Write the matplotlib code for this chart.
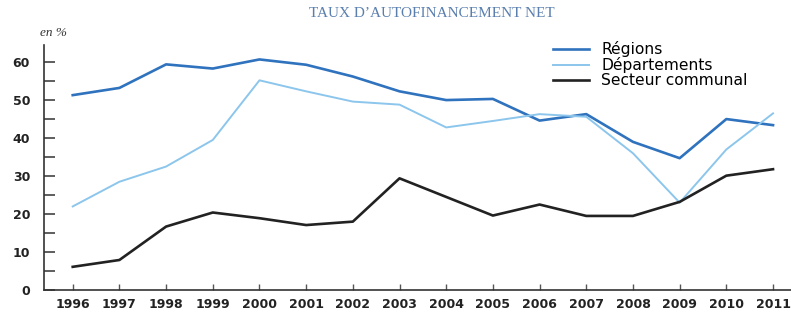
import numpy as np
import matplotlib
matplotlib.use("Agg")
import matplotlib.pyplot as plt
from matplotlib.ticker import MultipleLocator

years = list(range(1996, 2012))
regions = [51.3, 53.2, 59.4, 58.3, 60.7, 59.3, 56.2, 52.3, 50.0, 50.3, 44.6, 46.3, 39.0, 34.7, 45.0, 43.4]
departements = [22.0, 28.5, 32.5, 39.5, 55.2, 52.3, 49.6, 48.8, 42.8, 44.5, 46.3, 45.6, 36.0, 23.0, 37.0, 46.5]
communal = [6.1, 7.9, 16.7, 20.4, 18.9, 17.1, 18.0, 29.4, 24.5, 19.6, 22.5, 19.5, 19.5, 23.2, 30.1, 31.8]
labels = ["Régions", "Départements", "Secteur communal"]

fig = plt.figure(figsize=(7.91, 3.2), dpi=100)
ax = fig.add_axes([44 / 791, 30 / 320, 1 - 44 / 791, (290 - 45) / 320])

ax.plot(years, regions, color="#2f72bd", lw=1.9, label=labels[0])
ax.plot(years, departements, color="#8cc6ec", lw=1.4, label=labels[1])
ax.plot(years, communal, color="#222222", lw=1.9, label=labels[2])

ax.set_xlim(1995.385, 2011.385)
ax.set_ylim(0, 64.5)
ax.set_xticks(years)
ax.set_xticklabels([str(y) for y in years])
ax.yaxis.set_major_locator(MultipleLocator(10))
ax.yaxis.set_minor_locator(MultipleLocator(5))

for s in ["top", "right"]:
    ax.spines[s].set_visible(False)
for s in ["left", "bottom"]:
    ax.spines[s].set_color("#333333")
    ax.spines[s].set_linewidth(1.2)

ax.tick_params(axis="y", which="both", direction="in", length=8, width=1.1,
               color="#333333", labelsize=9, labelcolor="#222222", pad=10)
ax.tick_params(axis="x", which="both", direction="in", length=4, width=1.0,
               color="#555555", labelsize=9, labelcolor="#222222", pad=6)
for t in ax.get_xticklabels() + ax.get_yticklabels():
    t.set_fontweight("bold")

ax.legend(loc="upper left", bbox_to_anchor=(0.663, 1.073), frameon=False,
          fontsize=11.2, handlelength=2.3, handletextpad=0.8, labelspacing=0.0)

fig.text(0.546, 0.958, "TAUX D’AUTOFINANCEMENT NET", ha="center", va="center",
         fontsize=11, color="#5a7fae", family="Liberation Serif")
fig.text(40 / 791, 1 - 33 / 320, "en %", ha="left", va="center",
         fontsize=9.5, color="#333333", style="italic", family="Liberation Serif")

fig.savefig("out.png", dpi=100)
